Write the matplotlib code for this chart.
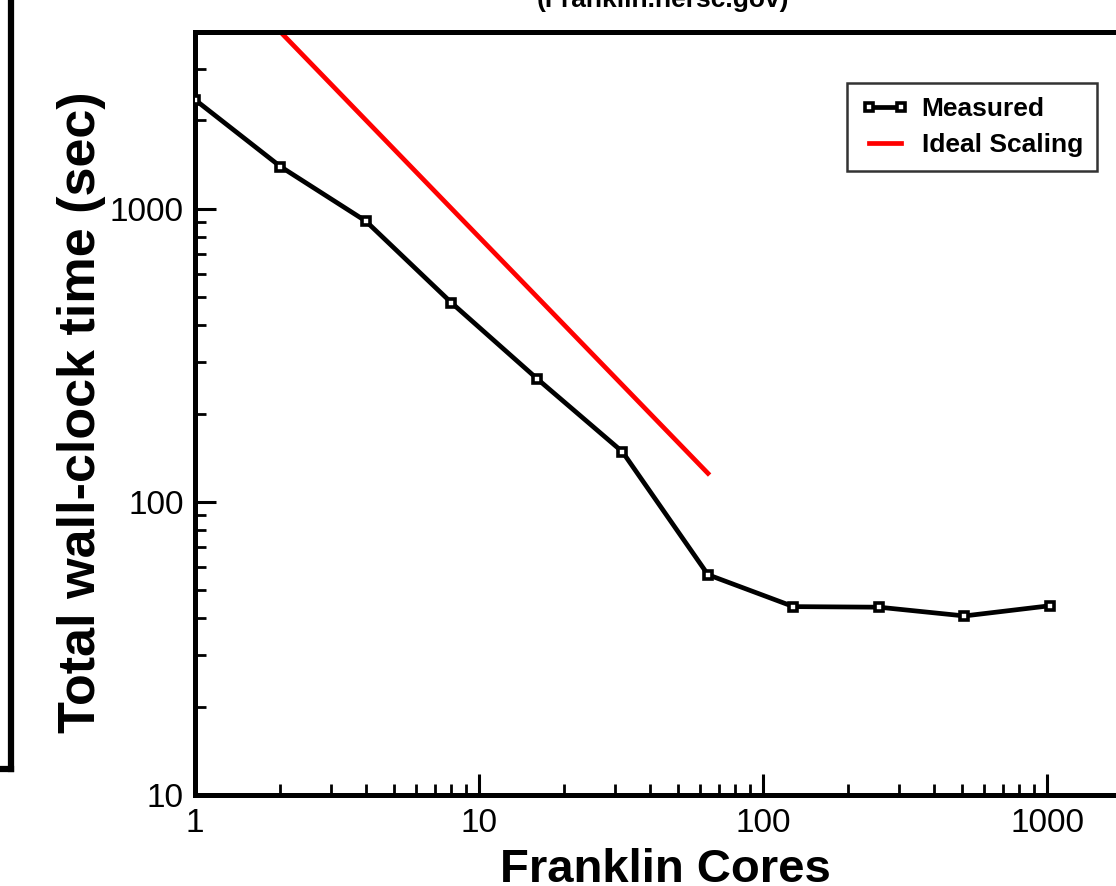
import matplotlib
matplotlib.use("Agg")
import matplotlib.pyplot as plt
from matplotlib.lines import Line2D
from matplotlib.ticker import LogLocator, NullFormatter, FixedLocator, FixedFormatter

# ---- data ----
cores = [1, 2, 4, 8, 16, 32, 64, 128, 256, 512, 1024]
measured = [2350, 1390, 905, 477, 263, 148, 56.4, 43.9, 43.7, 40.8, 44.2]
ideal_cores = [1, 2, 4, 8, 16, 32, 64]
ideal_time = [8000, 4000, 2000, 1000, 500, 250, 125]
x_ticks = [1, 10, 100, 1000]
x_ticklabels = ["1", "10", "100", "1000"]
y_ticks = [10, 100, 1000]
y_ticklabels = ["10", "100", "1000"]
series_labels = ["Measured", "Ideal Scaling"]
title_text = "(Franklin.nersc.gov)"
xlabel_text = "Franklin Cores"
ylabel_text = "Total wall-clock time (sec)"

fam = ["Liberation Sans", "DejaVu Sans"]

W, H = 1116, 886
fig = plt.figure(figsize=(W / 100, H / 100), dpi=100)
fig.patch.set_facecolor("white")

left, bottom, top = 195, 795, 32
width_px = 284 * 3.30103
ax = fig.add_axes([left / W, 1 - bottom / H, width_px / W, (bottom - top) / H])
ax.set_xscale("log")
ax.set_yscale("log")
ax.set_xlim(1, 2000)
ax.set_ylim(10, 4000)

ax.plot(cores, measured, color="black", lw=3.4, marker="s", ms=6,
        mfc="white", mec="black", mew=2.6, label=series_labels[0], zorder=3)
ax.plot(ideal_cores, ideal_time, color="#ff0000", lw=3.4,
        label=series_labels[1], zorder=2)

for s in ax.spines.values():
    s.set_linewidth(3.6)

ax.xaxis.set_major_locator(FixedLocator(x_ticks))
ax.xaxis.set_major_formatter(FixedFormatter(x_ticklabels))
ax.yaxis.set_major_locator(FixedLocator(y_ticks))
ax.yaxis.set_major_formatter(FixedFormatter(y_ticklabels))
ax.xaxis.set_minor_locator(LogLocator(base=10, subs=range(2, 10), numticks=20))
ax.yaxis.set_minor_locator(LogLocator(base=10, subs=range(2, 10), numticks=20))
ax.xaxis.set_minor_formatter(NullFormatter())
ax.yaxis.set_minor_formatter(NullFormatter())

ax.tick_params(which="major", direction="in", length=15, width=2.2,
               top=False, right=False)
ax.tick_params(which="minor", direction="in", length=8, width=2.0,
               top=False, right=False)
ax.tick_params(axis="x", which="major", pad=9)
ax.tick_params(axis="y", which="major", pad=8)
for lab in ax.get_xticklabels() + ax.get_yticklabels():
    lab.set_family(fam)
    lab.set_fontsize(24)

leg = ax.legend(loc="upper left", bbox_to_anchor=(847 / W, 1 - 83 / H),
                bbox_transform=fig.transFigure, numpoints=2,
                prop={"family": fam, "weight": "bold", "size": 19},
                frameon=True, fancybox=False, shadow=False, borderpad=0.53,
                handlelength=1.8, handletextpad=0.5, labelspacing=0.47,
                borderaxespad=0)
leg.get_frame().set_edgecolor("black")
leg.get_frame().set_linewidth(1.8)

fig.text(663 / W, 1 - 7 / H, title_text, ha="center", va="baseline",
         family=fam, weight="bold", fontsize=19)
fig.text(665 / W, 1 - 882 / H, xlabel_text, ha="center", va="baseline",
         family=fam, weight="bold", fontsize=34)
fig.text(82 / W, 1 - 412 / H, ylabel_text, ha="center", va="center",
         rotation=90, family=fam, weight="bold", fontsize=37.5)

# partial border of a neighbouring panel at the left edge
fig.add_artist(Line2D([11 / W, 11 / W], [1.0, 1 - 769 / H], color="black",
                      lw=4.5, transform=fig.transFigure, solid_capstyle="projecting"))
fig.add_artist(Line2D([0, 11 / W], [1 - 769 / H, 1 - 769 / H], color="black",
                      lw=4.5, transform=fig.transFigure, solid_capstyle="projecting"))

fig.savefig("out.png", dpi=100, facecolor="white")
